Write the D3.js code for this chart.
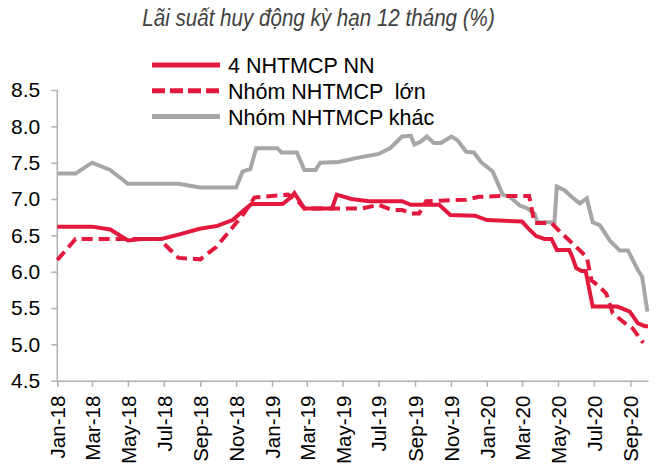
<!DOCTYPE html>
<html>
<head>
<meta charset="utf-8">
<script src="https://cdn.jsdelivr.net/npm/d3@7"></script>
<style>
body { margin: 0; background: #ffffff; }
text { font-family: "Liberation Sans", Arial, sans-serif; }
</style>
</head>
<body>
<div id="my_dataviz"></div>
<script>
// series names (legend)
var seriesNames = ["4 NHTMCP NN", "Nhóm NHTMCP  lớn", "Nhóm NHTMCP khác"];

// 4 NHTMCP NN
var nnData = [
["2018-01-01", 6.62], ["2018-03-01", 6.62], ["2018-04-01", 6.58], ["2018-05-01", 6.43],
["2018-05-25", 6.45], ["2018-06-27", 6.45], ["2018-07-26", 6.51], ["2018-08-31", 6.59],
["2018-09-30", 6.63], ["2018-10-26", 6.71], ["2018-11-12", 6.83], ["2018-11-27", 6.93],
["2019-01-19", 6.93], ["2019-02-03", 7.03], ["2019-02-08", 7.08], ["2019-02-25", 6.87],
["2019-04-13", 6.87], ["2019-04-21", 7.06], ["2019-05-16", 7.00], ["2019-06-15", 6.97],
["2019-08-10", 6.97], ["2019-08-25", 6.92], ["2019-10-12", 6.92], ["2019-10-31", 6.78],
["2019-12-12", 6.77], ["2020-01-01", 6.71], ["2020-03-01", 6.69], ["2020-03-11", 6.60],
["2020-03-25", 6.49], ["2020-04-08", 6.45], ["2020-04-20", 6.45], ["2020-04-29", 6.30],
["2020-05-20", 6.30], ["2020-05-25", 6.21], ["2020-06-01", 6.05], ["2020-06-10", 6.01],
["2020-06-17", 6.01], ["2020-06-29", 5.52], ["2020-08-10", 5.52], ["2020-08-31", 5.45],
["2020-09-14", 5.29], ["2020-09-26", 5.25], ["2020-10-01", 5.25]
];

// Nhom NHTMCP lon
var lonData = [
["2018-01-01", 6.16], ["2018-02-01", 6.45], ["2018-06-23", 6.45], ["2018-07-26", 6.19],
["2018-09-01", 6.17], ["2018-09-28", 6.34], ["2018-10-24", 6.59], ["2018-11-15", 6.81],
["2018-12-02", 7.02], ["2019-01-28", 7.06], ["2019-02-12", 6.99], ["2019-02-25", 6.87],
["2019-06-03", 6.87], ["2019-07-01", 6.92], ["2019-07-23", 6.85], ["2019-08-10", 6.85],
["2019-08-25", 6.80], ["2019-09-08", 6.80], ["2019-09-20", 6.97], ["2019-11-27", 6.99],
["2019-12-19", 7.03], ["2020-01-23", 7.04], ["2020-03-13", 7.04], ["2020-03-22", 6.67],
["2020-04-20", 6.67], ["2020-05-07", 6.53], ["2020-06-01", 6.34], ["2020-06-19", 6.20],
["2020-06-27", 5.88], ["2020-07-11", 5.79], ["2020-07-22", 5.70], ["2020-08-02", 5.43],
["2020-08-26", 5.27], ["2020-09-05", 5.22], ["2020-09-23", 5.02]
];

// Nhom NHTMCP khac
var khacData = [
["2018-01-01", 7.35], ["2018-02-01", 7.35], ["2018-03-01", 7.50], ["2018-04-01", 7.40],
["2018-05-01", 7.21], ["2018-07-26", 7.21], ["2018-09-01", 7.16], ["2018-11-01", 7.16],
["2018-11-12", 7.38], ["2018-11-25", 7.41], ["2018-12-05", 7.70], ["2019-01-10", 7.70],
["2019-01-17", 7.64], ["2019-02-12", 7.64], ["2019-02-25", 7.40], ["2019-03-16", 7.40],
["2019-03-24", 7.50], ["2019-04-24", 7.51], ["2019-05-28", 7.57], ["2019-07-01", 7.62],
["2019-07-21", 7.70], ["2019-08-10", 7.86], ["2019-08-25", 7.87], ["2019-08-31", 7.75],
["2019-09-11", 7.79], ["2019-09-21", 7.86], ["2019-10-03", 7.77], ["2019-10-15", 7.77],
["2019-11-02", 7.86], ["2019-11-12", 7.81], ["2019-11-27", 7.65], ["2019-12-10", 7.64],
["2019-12-22", 7.51], ["2020-01-11", 7.38], ["2020-01-28", 7.06], ["2020-02-09", 7.03],
["2020-02-26", 6.91], ["2020-03-08", 6.88], ["2020-03-22", 6.80], ["2020-03-27", 6.68],
["2020-04-25", 6.68], ["2020-04-29", 7.17], ["2020-05-12", 7.12], ["2020-05-24", 7.03],
["2020-06-07", 6.94], ["2020-06-19", 7.01], ["2020-06-29", 6.68], ["2020-07-11", 6.64],
["2020-07-28", 6.43], ["2020-08-14", 6.29], ["2020-08-28", 6.29], ["2020-09-14", 6.02],
["2020-09-21", 5.93], ["2020-09-30", 5.45]
];

// y axis ticks
var yTicks = [4.5, 5.0, 5.5, 6.0, 6.5, 7.0, 7.5, 8.0, 8.5];

var red = "#e2193d", grey = "#a6a6a6";

// set the dimensions of the graph
var width = 657, height = 468;
var svg = d3.select("#my_dataviz")
.append("svg")
.attr("width", width)
.attr("height", height);

var parseDate = d3.timeParse("%Y-%m-%d");
function prep(arr) {
return arr.map(function (d) { return {date: parseDate(d[0]), value: d[1]}; });
}

var x = d3.scaleTime()
.domain([parseDate("2018-01-01"), parseDate("2020-10-01")])
.range([57.3, 648]);

var y = d3.scaleLinear()
.domain([4.5, 8.5])
.range([380.7, 90]);

// title
svg.append("text")
.attr("transform", "translate(318.5,26) scale(1,1.12)")
.attr("text-anchor", "middle")
.style("font-style", "italic")
.style("font-size", "20.6px")
.style("fill", "#404040")
.text("Lãi suất huy động kỳ hạn 12 tháng (%)");

// Y axis
var yAxis = svg.append("g")
.attr("transform", "translate(57.3,0)")
.call(d3.axisLeft(y).tickValues(yTicks).tickFormat(d3.format(".1f")).tickSize(6).tickPadding(11));
yAxis.selectAll("text")
.style("font-size", "21px")
.style("fill", "#000");

// X axis
var xAxis = svg.append("g")
.attr("transform", "translate(0,380.7)")
.call(d3.axisBottom(x).ticks(d3.timeMonth.every(2)).tickFormat(d3.timeFormat("%b-%y")).tickSize(6).tickSizeOuter(0));
xAxis.selectAll("text")
.attr("transform", "rotate(-90)")
.attr("text-anchor", "end")
.attr("x", -15)
.attr("y", 0)
.attr("dy", "0.36em")
.style("font-size", "20.5px")
.style("fill", "#000");

svg.selectAll(".domain, .tick line")
.attr("stroke", "#b0b0b0")
.attr("stroke-width", 1.5);
yAxis.select(".domain").attr("d", "M-0,90V380.7");

var line = d3.line()
.x(function (d) { return x(d.date); })
.y(function (d) { return y(d.value); });

// lines
svg.append("path")
.datum(prep(khacData))
.attr("fill", "none")
.attr("stroke", grey)
.attr("stroke-width", 4)
.attr("d", line);

svg.append("path")
.datum(prep(lonData))
.attr("fill", "none")
.attr("stroke", red)
.attr("stroke-width", 4)
.attr("stroke-dasharray", "11,6")
.attr("d", line);

svg.append("path")
.datum(prep(nnData))
.attr("fill", "none")
.attr("stroke", red)
.attr("stroke-width", 4)
.attr("d", line);

// legend
var legendStyles = [
{color: red, dash: null},
{color: red, dash: "13,5"},
{color: grey, dash: null}
];
var legend = svg.append("g");
seriesNames.forEach(function (name, i) {
var ly = 65 + i * 25.8;
legend.append("line")
.attr("x1", 152).attr("x2", 220)
.attr("y1", ly).attr("y2", ly)
.attr("stroke", legendStyles[i].color)
.attr("stroke-width", 5)
.attr("stroke-dasharray", legendStyles[i].dash);
legend.append("text")
.attr("x", 228)
.attr("y", ly + 8)
.style("font-size", "21.5px")
.style("white-space", "pre")
.attr("xml:space", "preserve")
.text(name);
});
</script>
</body>
</html>
